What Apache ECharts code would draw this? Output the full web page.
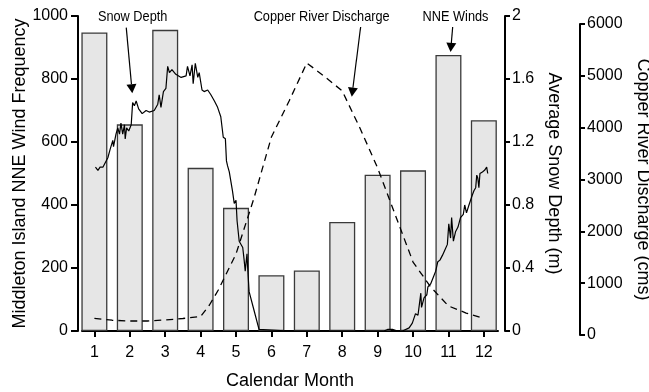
<!DOCTYPE html>
<html><head><meta charset="utf-8">
<script src="https://cdn.jsdelivr.net/npm/echarts@6/dist/echarts.min.js"></script>
<style>html,body{margin:0;padding:0;background:#fff}#c{width:649px;height:392px}</style>
</head><body><div id="c"></div>
<script>
// ---- data ----
const months = [1,2,3,4,5,6,7,8,9,10,11,12];
const nneWinds = [948,656,956,518,391,177,192,346,496,510,876,669];

const snowMonth = [1.03,1.10,1.16,1.24,1.38,1.44,1.52,1.54,1.61,1.66,1.71,1.75,1.80,1.85,1.87,1.91,1.97,2.04,2.08,2.13,2.18,2.25,2.35,2.46,2.55,2.69,2.79,2.83,2.88,2.95,3.02,3.07,3.12,3.19,3.30,3.45,3.59,3.63,3.70,3.76,3.79,3.85,3.92,3.96,4.04,4.10,4.20,4.29,4.39,4.48,4.57,4.64,4.70,4.73,4.76,4.81,4.90,4.95,5.00,5.03,5.09,5.19,5.23,5.26,5.31,5.33,5.37,5.51,5.65,5.70,6.5,7.5,8.5,9.18,9.28,9.42,9.56,9.70,9.89,9.98,10.07,10.14,10.22,10.24,10.31,10.39,10.42,10.50,10.57,10.64,10.70,10.76,10.83,10.89,10.97,11.01,11.06,11.09,11.14,11.20,11.27,11.34,11.42,11.46,11.51,11.58,11.67,11.72,11.77,11.80,11.83,11.86,11.89,11.96,12.02,12.08,12.11];
const snowDepth = [1.04,1.02,1.04,1.04,1.10,1.15,1.21,1.17,1.25,1.29,1.25,1.32,1.25,1.31,1.22,1.29,1.27,1.31,1.45,1.43,1.46,1.41,1.38,1.40,1.39,1.40,1.44,1.50,1.42,1.52,1.54,1.68,1.64,1.66,1.63,1.61,1.62,1.68,1.62,1.69,1.57,1.70,1.61,1.64,1.53,1.52,1.53,1.50,1.46,1.42,1.36,1.23,1.22,1.08,1.05,1.01,0.89,0.81,0.83,0.70,0.57,0.53,0.45,0.38,0.49,0.40,0.25,0.13,0.01,0,0,0,0,0,0.01,0.01,0,0,0.02,0.05,0.11,0.10,0.24,0.15,0.21,0.23,0.28,0.30,0.34,0.38,0.44,0.45,0.48,0.51,0.55,0.68,0.59,0.72,0.57,0.63,0.66,0.72,0.74,0.80,0.75,0.80,0.86,0.89,0.91,0.99,0.97,0.91,1.00,1.01,1.02,1.04,1.00];

const dischargeMonth = [1,1.5,2,2.5,3,3.5,4,4.25,4.5,5,5.5,6,6.5,7,7.5,8,8.5,9,9.5,10,10.5,11,11.5,12];
const discharge = [322,285,270,270,290,318,357,579,868,1563,2624,3820,4515,5248,4988,4708,3994,3222,2315,1408,926,560,424,318];

const annotations = [
  {text:'Snow Depth', textAt:[2.08, 998], from:[1.90, 963], to:[2.07, 755]},
  {text:'Copper River Discharge', textAt:[7.42, 997], from:[8.52, 965], to:[8.27, 744]},
  {text:'NNE Winds', textAt:[11.20, 997], from:[11.12, 965], to:[11.06, 886]}
];

// ---- chart ----
const FONT = "'Liberation Sans', Arial, sans-serif";
const chart = echarts.init(document.getElementById('c'));
const axisLine = {show:true, lineStyle:{color:'#000', width:2}};
const tick = (len) => ({show:true, length:len, lineStyle:{color:'#000', width:2}});
const lbl = (m) => ({color:'#000', fontSize:16, fontFamily:FONT, margin:m, formatter:(v)=>String(v)});
const nameStyle = {color:'#000', fontSize:18, fontFamily:FONT};

chart.setOption({
  animation:false,
  backgroundColor:'#fff',
  grid:[
    {left:82, right:151, top:16, bottom:61, outerBoundsMode:'none', containLabel:false},
    {left:82, right:151, top:24, bottom:57, outerBoundsMode:'none', containLabel:false}
  ],
  xAxis:[
    {type:'value', gridIndex:0, min:0.65, max:12.4,
     axisLine:axisLine, splitLine:{show:false},
     axisTick:Object.assign(tick(6), {customValues:months}),
     axisLabel:Object.assign(lbl(14), {customValues:months}),
     name:'Calendar Month', nameLocation:'middle', nameGap:41, nameTextStyle:nameStyle},
    {type:'value', gridIndex:1, min:0.65, max:12.4, show:false}
  ],
  yAxis:[
    {type:'value', gridIndex:0, position:'left', offset:4, min:0, max:1000, interval:200,
     axisLine:axisLine, axisTick:tick(7), axisLabel:lbl(10), splitLine:{show:false},
     name:'Middleton Island NNE Wind Frequency', nameLocation:'middle', nameGap:49, nameRotate:90,
     nameMoveOverlap:false, nameTextStyle:nameStyle},
    {type:'value', gridIndex:0, position:'right', offset:7, min:0, max:2, interval:0.4,
     axisLine:axisLine, axisTick:tick(5), axisLabel:lbl(7), splitLine:{show:false},
     name:'Average Snow Depth (m)', nameLocation:'middle', nameGap:38, nameRotate:-90, nameTextStyle:nameStyle},
    {type:'value', gridIndex:1, position:'right', offset:82, min:0, max:6000, interval:1000,
     axisLine:axisLine, axisTick:tick(5), axisLabel:lbl(7), splitLine:{show:false},
     name:'Copper River Discharge (cms)', nameLocation:'middle', nameGap:54, nameRotate:-90, nameTextStyle:nameStyle}
  ],
  series:[
    {type:'bar', xAxisIndex:0, yAxisIndex:0, barWidth:26,
     data:months.map((m,i)=>[m, nneWinds[i]]),
     itemStyle:{color:'#e6e6e6', borderColor:'#3a3a3a', borderWidth:1.3}, z:1},
    {type:'line', xAxisIndex:0, yAxisIndex:1, showSymbol:false, symbol:'none',
     data:snowMonth.map((m,i)=>[m, snowDepth[i]]),
     lineStyle:{color:'#000', width:1.2}, z:4},
    {type:'line', xAxisIndex:1, yAxisIndex:2, showSymbol:false, symbol:'none',
     data:dischargeMonth.map((m,i)=>[m, discharge[i]]),
     lineStyle:{color:'#000', width:1.3, type:[7,5]}, z:3}
  ]
});

// annotations: positions defined in data space, converted via the chart's own axes
const g = [];
annotations.forEach(a => {
  const t = chart.convertToPixel({xAxisIndex:0, yAxisIndex:0}, a.textAt);
  const p0 = chart.convertToPixel({xAxisIndex:0, yAxisIndex:0}, a.from);
  const p1 = chart.convertToPixel({xAxisIndex:0, yAxisIndex:0}, a.to);
  const dx = p1[0]-p0[0], dy = p1[1]-p0[1], L = Math.hypot(dx,dy);
  const ux = dx/L, uy = dy/L, head = 9, hw = 5;
  const bx = p1[0]-ux*head, by = p1[1]-uy*head;
  g.push({type:'text', silent:true, x:t[0], y:t[1], scaleX:0.85,
          style:{text:a.text, x:0, y:0, align:'center', verticalAlign:'middle',
          fill:'#000', fontSize:15, fontFamily:FONT}});
  g.push({type:'line', silent:true, shape:{x1:p0[0], y1:p0[1], x2:bx, y2:by}, style:{stroke:'#000', lineWidth:1.2}});
  g.push({type:'polygon', silent:true, shape:{points:[[p1[0],p1[1]],[bx-uy*hw, by+ux*hw],[bx+uy*hw, by-ux*hw]]},
          style:{fill:'#000'}});
});
chart.setOption({graphic:g});
</script></body></html>
